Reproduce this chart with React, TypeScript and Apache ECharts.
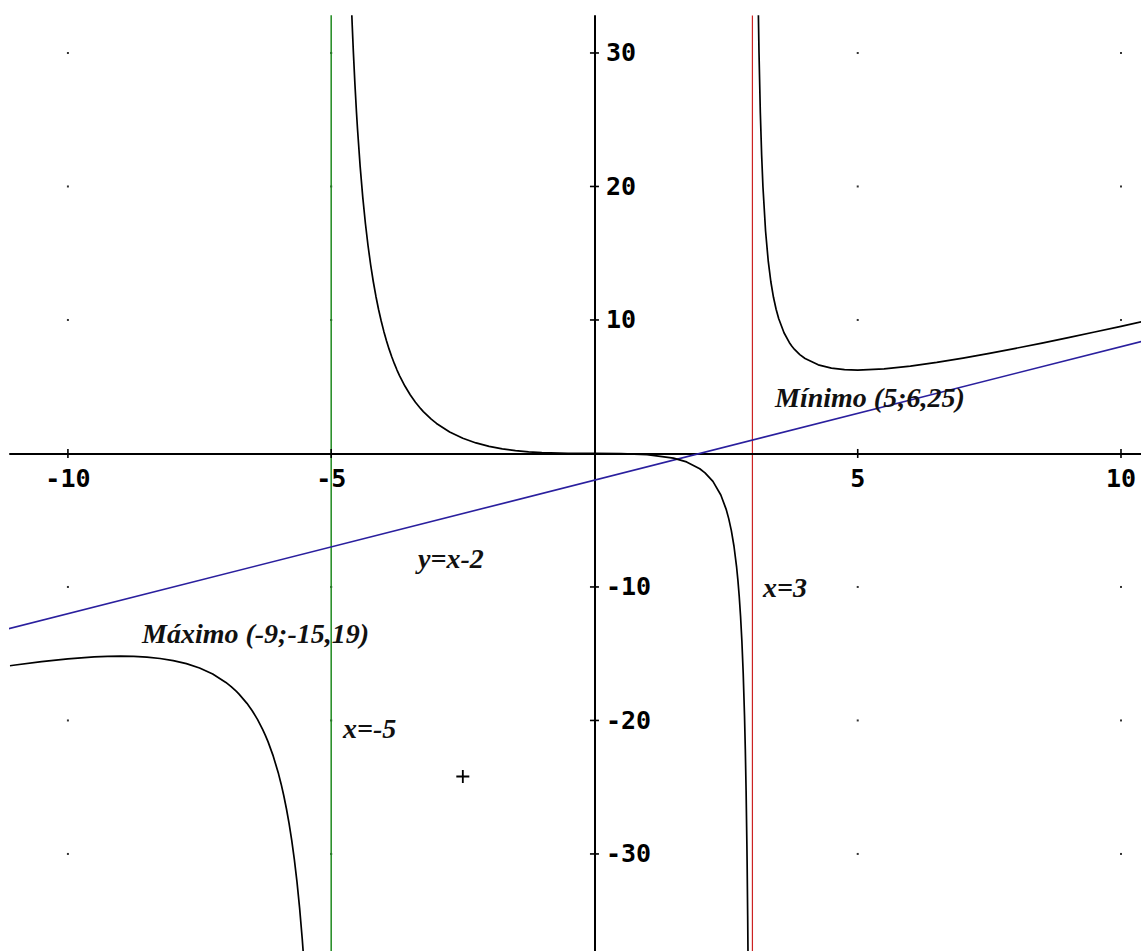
import React, { useEffect, useRef } from "react";
import * as echarts from "echarts";

// f(x) = x^3 / ((x + 5)(x - 3)) — sampled branches, [x, y]
const leftBranch: [number, number][] = [
  [-11.1, -15.9], [-11, -15.845], [-10.5, -15.591], [-10, -15.385], [-9.5, -15.242],
  [-9.25, -15.202], [-9, -15.1875], [-8.75, -15.204], [-8.5, -15.258], [-8.25, -15.358],
  [-8, -15.515], [-7.75, -15.746], [-7.5, -16.071], [-7.25, -16.524], [-7, -17.15],
  [-6.9, -17.465], [-6.8, -17.825], [-6.75, -18.025], [-6.6, -18.717], [-6.5, -19.272],
  [-6.4, -19.92], [-6.3, -20.682], [-6.25, -21.115], [-6.2, -21.588], [-6.1, -22.675],
  [-6, -24], [-5.95, -24.774], [-5.9, -25.64], [-5.85, -26.614], [-5.8, -27.715],
  [-5.75, -28.969], [-5.7, -30.409], [-5.65, -32.079], [-5.6, -34.034], [-5.55, -36.354],
  [-5.525, -37.683], [-5.5, -39.147],
];

const middleBranch: [number, number][] = [
  [-4.62, 34.055], [-4.6, 32.018], [-4.58, 30.177], [-4.55, 27.725], [-4.52, 25.583],
  [-4.5, 24.3], [-4.45, 21.506], [-4.4, 19.186], [-4.35, 17.229], [-4.3, 15.559],
  [-4.25, 14.118], [-4.2, 12.863], [-4.15, 11.76], [-4.1, 10.786], [-4.05, 9.919],
  [-4, 9.143], [-3.95, 8.445], [-3.9, 7.815], [-3.85, 7.244], [-3.8, 6.725],
  [-3.75, 6.25], [-3.7, 5.815], [-3.6, 5.049], [-3.5, 4.397], [-3.4, 3.838],
  [-3.3, 3.355], [-3.25, 3.139], [-3.1, 2.57], [-3, 2.25], [-2.75, 1.607],
  [-2.5, 1.136], [-2.25, 0.789], [-2, 0.533], [-1.75, 0.347], [-1.5, 0.214],
  [-1.25, 0.1225], [-1, 0.0625], [-0.5, 0.0079], [0, 0], [0.5, -0.0091],
  [1, -0.0833], [1.5, -0.346], [1.75, -0.635], [2, -1.143], [2.1, -1.449],
  [2.25, -2.095], [2.4, -3.114], [2.5, -4.167], [2.55, -4.88], [2.6, -5.782],
  [2.65, -6.951], [2.7, -8.521], [2.725, -9.525], [2.75, -10.734], [2.775, -12.215],
  [2.8, -14.072], [2.825, -16.463], [2.85, -19.66], [2.865, -22.148], [2.88, -25.263],
  [2.895, -29.268], [2.9, -30.872], [2.91, -34.614], [2.92, -39.295],
];

const rightBranch: [number, number][] = [
  [3.11, 33.72], [3.125, 30.049], [3.15, 25.567], [3.175, 22.372], [3.2, 19.98],
  [3.25, 16.644], [3.3, 14.433], [3.35, 12.864], [3.4, 11.698], [3.45, 10.799],
  [3.5, 10.088], [3.6, 9.042], [3.7, 8.317], [3.75, 8.036], [3.8, 7.794],
  [3.9, 7.406], [4, 7.111], [4.25, 6.639], [4.5, 6.395], [4.75, 6.281],
  [5, 6.25], [5.5, 6.338], [6, 6.545], [6.5, 6.823], [7, 7.146],
  [7.5, 7.5], [8, 7.877], [8.5, 8.271], [9, 8.679], [9.5, 9.097],
  [10, 9.524], [10.4, 9.871],
];

// Asymptotes
const verticalAsymptoteLeft = -5;
const verticalAsymptoteRight = 3;
const obliqueAsymptote: [number, number][] = [[-12, -14], [11, 9]];

// Axis ticks and dotted grid nodes
const xTickValues = [-10, -5, 5, 10];
const yTickValues = [-30, -20, -10, 10, 20, 30];
const cursorPoint: [number, number][] = [[-2.5, -24.2]];

const X_MIN = -11.1;
const X_MAX = 10.38;
const Y_MIN = -37.27;
const Y_MAX = 32.77;

const tickLabel = {
  show: true,
  fontFamily: '"DejaVu Sans Mono", monospace',
  fontWeight: "bold" as const,
  fontSize: 25,
  color: "#000",
};

const noteFont = 'italic bold 28px "Liberation Serif", "Times New Roman", serif';

export default function App() {
  const ref = useRef<HTMLDivElement>(null);

  useEffect(() => {
    if (!ref.current) return;
    const chart = echarts.init(ref.current, undefined, { renderer: "svg" });

    const gridDots: [number, number][] = [];
    xTickValues.forEach((x) => yTickValues.forEach((y) => gridDots.push([x, y])));
    const xTicks = xTickValues.map((x) => [x, 0]);
    const yTicks = yTickValues.map((y) => [0, y]);

    const curve = (data: [number, number][]) => ({
      type: "line",
      data,
      showSymbol: false,
      lineStyle: { color: "#000", width: 1.7, join: "round" },
      z: 5,
      silent: true,
    });

    const text = (t: string, x: number, y: number) => ({
      type: "text",
      x,
      y,
      z: 20,
      style: { text: t, font: noteFont, fill: "#111", align: "left", verticalAlign: "middle" },
    });

    const axisCommon = {
      type: "value",
      axisLine: { onZero: true, lineStyle: { color: "#000", width: 2 } },
      axisTick: { show: false },
      axisLabel: { show: false },
      splitLine: { show: false },
      z: 3,
    };

    chart.setOption({
      animation: false,
      backgroundColor: "#fff",
      grid: { left: 10, top: 16, right: 0, bottom: 0, containLabel: false, outerBoundsMode: "none" },
      xAxis: { ...axisCommon, min: X_MIN, max: X_MAX },
      yAxis: { ...axisCommon, min: Y_MIN, max: Y_MAX },
      series: [
        {
          type: "scatter",
          data: gridDots,
          symbol: "rect",
          symbolSize: 2,
          itemStyle: { color: "#333", opacity: 1 },
          silent: true,
          z: 1,
        },
        {
          type: "line",
          data: [[verticalAsymptoteLeft, Y_MIN - 5], [verticalAsymptoteLeft, Y_MAX + 5]],
          showSymbol: false,
          lineStyle: { color: "#1f8a1f", width: 1.5 },
          silent: true,
          z: 2,
        },
        {
          type: "line",
          data: [[verticalAsymptoteRight, Y_MIN - 5], [verticalAsymptoteRight, Y_MAX + 5]],
          showSymbol: false,
          lineStyle: { color: "#cc2222", width: 1.2 },
          silent: true,
          z: 2,
        },
        {
          type: "line",
          data: obliqueAsymptote,
          showSymbol: false,
          lineStyle: { color: "#2a1f9e", width: 1.6 },
          silent: true,
          z: 4,
        },
        curve(leftBranch),
        curve(middleBranch),
        curve(rightBranch),
        {
          type: "scatter",
          data: xTicks,
          symbol: "rect",
          symbolSize: [1.6, 9],
          itemStyle: { color: "#000", opacity: 1 },
          label: {
            ...tickLabel,
            position: "bottom",
            distance: 8,
            formatter: (p: any) => String(p.value[0]),
          },
          silent: true,
          z: 6,
        },
        {
          type: "scatter",
          data: yTicks,
          symbol: "rect",
          symbolSize: [9, 1.6],
          itemStyle: { color: "#000", opacity: 1 },
          label: {
            ...tickLabel,
            position: "right",
            distance: 7,
            formatter: (p: any) => String(p.value[1]),
          },
          silent: true,
          z: 6,
        },
        {
          type: "scatter",
          data: cursorPoint,
          symbol: "path://M0,4.3H10V5.7H0Z M4.3,0H5.7V10H4.3Z",
          symbolSize: 13,
          itemStyle: { color: "#000", opacity: 1 },
          silent: true,
          z: 6,
        },
      ],
      graphic: [
        text("Mínimo (5;6,25)", 775, 397),
        text("y=x-2", 418, 558),
        text("x=3", 763, 587),
        text("Máximo (-9;-15,19)", 142, 633),
        text("x=-5", 343, 728),
      ],
    });

    return () => chart.dispose();
  }, []);

  return (
    <div
      ref={ref}
      style={{ position: "absolute", left: 0, top: 0, width: 1141, height: 951 }}
    />
  );
}
